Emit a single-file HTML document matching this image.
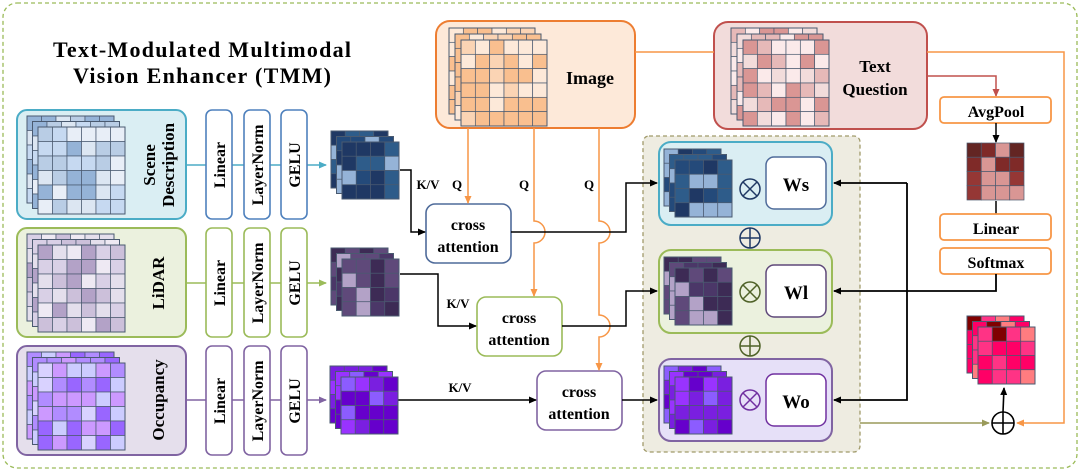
<!DOCTYPE html>
<html><head><meta charset="utf-8"><style>
html,body{margin:0;padding:0;background:#fff;}
svg{display:block;}
text{font-family:"Liberation Serif",serif;font-weight:bold;fill:#000;}
</style></head><body>
<svg id="s" width="1080" height="472" viewBox="0 0 1080 472" xmlns="http://www.w3.org/2000/svg">
<defs>
<marker id="ab" markerWidth="8" markerHeight="8" refX="7" refY="4" orient="auto" markerUnits="userSpaceOnUse"><path d="M0,0.5 L8,4 L0,7.5 Z" fill="#000"/></marker>
<marker id="ao" markerWidth="8" markerHeight="8" refX="7" refY="4" orient="auto" markerUnits="userSpaceOnUse"><path d="M0,0.5 L8,4 L0,7.5 Z" fill="#f79646"/></marker>
<marker id="ar" markerWidth="8" markerHeight="8" refX="7" refY="4" orient="auto" markerUnits="userSpaceOnUse"><path d="M0,0.5 L8,4 L0,7.5 Z" fill="#c0504d"/></marker>
<marker id="ac" markerWidth="8" markerHeight="8" refX="7" refY="4" orient="auto" markerUnits="userSpaceOnUse"><path d="M0,0.5 L8,4 L0,7.5 Z" fill="#4bacc6"/></marker>
<marker id="ag" markerWidth="8" markerHeight="8" refX="7" refY="4" orient="auto" markerUnits="userSpaceOnUse"><path d="M0,0.5 L8,4 L0,7.5 Z" fill="#9bbb59"/></marker>
<marker id="ap" markerWidth="8" markerHeight="8" refX="7" refY="4" orient="auto" markerUnits="userSpaceOnUse"><path d="M0,0.5 L8,4 L0,7.5 Z" fill="#8064a2"/></marker>
<marker id="ay" markerWidth="8" markerHeight="8" refX="7" refY="4" orient="auto" markerUnits="userSpaceOnUse"><path d="M0,0.5 L8,4 L0,7.5 Z" fill="#9a9a5a"/></marker>
</defs>
<rect x="3" y="3" width="1074" height="465" rx="14" fill="none" stroke="#9bbb59" stroke-width="1.3" stroke-dasharray="4,3"/>
<text x="202" y="57" font-size="22" text-anchor="middle" textLength="298">Text-Modulated Multimodal</text>
<text x="202" y="83" font-size="22" text-anchor="middle" textLength="258">Vision Enhancer (TMM)</text>

<!-- panel (drawn first) -->
<rect x="643" y="136" width="217" height="316" rx="6" fill="#eeece1" stroke="#a09a6a" stroke-width="1.3" stroke-dasharray="4,3"/>
<rect x="659" y="142" width="173" height="83" rx="12" fill="#daeef3" stroke="#4bacc6" stroke-width="2"/>
<rect x="659" y="250" width="173" height="83" rx="12" fill="#ebf1de" stroke="#9bbb59" stroke-width="2"/>
<rect x="659" y="359" width="173" height="82" rx="12" fill="#e6e0f8" stroke="#8064a2" stroke-width="2"/>
<rect x="766" y="157" width="60" height="52" rx="8" fill="#fff" stroke="#4f6b9a" stroke-width="1.5"/>
<rect x="766" y="265" width="60" height="52" rx="8" fill="#fff" stroke="#5f497a" stroke-width="1.5"/>
<rect x="766" y="374" width="60" height="52" rx="8" fill="#fff" stroke="#7030a0" stroke-width="1.5"/>
<text x="796" y="191" font-size="19" text-anchor="middle">Ws</text>
<text x="796" y="299" font-size="19" text-anchor="middle">Wl</text>
<text x="796" y="408" font-size="19" text-anchor="middle">Wo</text>
<g id="ops"></g>

<!-- input boxes -->
<rect x="17" y="110" width="169" height="109" rx="10" fill="#daeef3" stroke="#4bacc6" stroke-width="2"/>
<rect x="17" y="228" width="169" height="109" rx="10" fill="#ebf1de" stroke="#9bbb59" stroke-width="2"/>
<rect x="17" y="346" width="169" height="109" rx="10" fill="#e5dfec" stroke="#8064a2" stroke-width="2"/>
<text transform="translate(155,165) rotate(-90)" font-size="17" text-anchor="middle">Scene</text>
<text transform="translate(174,165) rotate(-90)" font-size="17" text-anchor="middle">Description</text>
<text transform="translate(164,283) rotate(-90)" font-size="17" text-anchor="middle">LiDAR</text>
<text transform="translate(164,400) rotate(-90)" font-size="17" text-anchor="middle">Occupancy</text>

<line x1="186" y1="165" x2="326" y2="165" stroke="#4bacc6" stroke-width="1.5" marker-end="url(#ac)"/>
<line x1="186" y1="283" x2="326" y2="283" stroke="#9bbb59" stroke-width="1.5" marker-end="url(#ag)"/>
<line x1="186" y1="400" x2="326" y2="400" stroke="#8064a2" stroke-width="1.5" marker-end="url(#ap)"/>

<g id="lnbox"></g>

<!-- image & text -->
<rect x="436" y="21" width="199" height="107" rx="14" fill="#fde9d9" stroke="#ed7d31" stroke-width="2"/>
<text x="590" y="84" font-size="18" text-anchor="middle">Image</text>
<rect x="714" y="22" width="213" height="107" rx="14" fill="#f2dcdb" stroke="#c0504d" stroke-width="2"/>
<text x="875" y="72" font-size="17" text-anchor="middle">Text</text>
<text x="875" y="95" font-size="17" text-anchor="middle">Question</text>
<line x1="635" y1="52" x2="714" y2="52" stroke="#f79646" stroke-width="1.5"/>
<polyline points="927,52 1064,52 1064,423 1017,423" fill="none" stroke="#f79646" stroke-width="1.5" marker-end="url(#ao)"/>
<polyline points="927,76 996,76 996,96" fill="none" stroke="#c0504d" stroke-width="1.5" marker-end="url(#ar)"/>

<!-- right column -->
<rect x="940" y="97" width="111" height="26" rx="4" fill="#fff" stroke="#f79646" stroke-width="1.8"/>
<text x="996" y="117" font-size="16" text-anchor="middle">AvgPool</text>
<line x1="996" y1="123" x2="996" y2="142" stroke="#000" stroke-width="1.5" marker-end="url(#ab)"/>
<line x1="996" y1="201" x2="996" y2="214" stroke="#000" stroke-width="1.5"/>
<rect x="940" y="214" width="111" height="26" rx="4" fill="#fff" stroke="#f79646" stroke-width="1.8"/>
<text x="996" y="234" font-size="16" text-anchor="middle">Linear</text>
<rect x="940" y="248" width="111" height="26" rx="4" fill="#fff" stroke="#f79646" stroke-width="1.8"/>
<text x="996" y="268" font-size="16" text-anchor="middle">Softmax</text>
<polyline points="996,274 996,291 834,291" fill="none" stroke="#000" stroke-width="1.8" marker-end="url(#ab)"/>
<polyline points="907,183 834,183" fill="none" stroke="#000" stroke-width="1.8" marker-end="url(#ab)"/>
<polyline points="907,183 907,400 834,400" fill="none" stroke="#000" stroke-width="1.8" marker-end="url(#ab)"/>

<line x1="860" y1="423" x2="989" y2="423" stroke="#9a9a5a" stroke-width="1.5" marker-end="url(#ay)"/>
<circle cx="1003" cy="423" r="11" fill="#fff" stroke="#000" stroke-width="1.6"/>
<line x1="992" y1="423" x2="1014" y2="423" stroke="#000" stroke-width="1.6"/>
<line x1="1003" y1="412" x2="1003" y2="434" stroke="#000" stroke-width="1.6"/>
<line x1="1003" y1="412" x2="1004" y2="388" stroke="#000" stroke-width="1.6" marker-end="url(#ab)"/>

<!-- cross attention -->
<rect x="426" y="204" width="85" height="59" rx="9" fill="#fff" stroke="#4f6b9a" stroke-width="1.6"/>
<text x="468" y="230" font-size="16" text-anchor="middle">cross</text>
<text x="468" y="252" font-size="16" text-anchor="middle">attention</text>
<rect x="477" y="297" width="85" height="59" rx="9" fill="#fff" stroke="#9bbb59" stroke-width="1.6"/>
<text x="519" y="323" font-size="16" text-anchor="middle">cross</text>
<text x="519" y="345" font-size="16" text-anchor="middle">attention</text>
<rect x="537" y="371" width="85" height="59" rx="9" fill="#fff" stroke="#8064a2" stroke-width="1.6"/>
<text x="579" y="397" font-size="16" text-anchor="middle">cross</text>
<text x="579" y="419" font-size="16" text-anchor="middle">attention</text>

<line x1="468" y1="128" x2="468" y2="203" stroke="#f79646" stroke-width="1.5" marker-end="url(#ao)"/>
<path d="M534,128 L534,221 A11,11 0 0 1 534,243 L534,296" fill="none" stroke="#f79646" stroke-width="1.5" marker-end="url(#ao)"/>
<path d="M599,128 L599,221 A11,11 0 0 1 599,243 L599,315 A11,11 0 0 1 599,337 L599,370" fill="none" stroke="#f79646" stroke-width="1.5" marker-end="url(#ao)"/>

<polyline points="400,170 411,170 411,232 425,232" fill="none" stroke="#000" stroke-width="1.5" marker-end="url(#ab)"/>
<polyline points="400,274 438,274 438,326 476,326" fill="none" stroke="#000" stroke-width="1.5" marker-end="url(#ab)"/>
<polyline points="398,400 536,400" fill="none" stroke="#000" stroke-width="1.5" marker-end="url(#ab)"/>
<polyline points="511,232 626,232 626,183 657,183" fill="none" stroke="#000" stroke-width="1.5" marker-end="url(#ab)"/>
<polyline points="562,326 626,326 626,291 657,291" fill="none" stroke="#000" stroke-width="1.5" marker-end="url(#ab)"/>
<polyline points="622,400 657,400" fill="none" stroke="#000" stroke-width="1.5" marker-end="url(#ab)"/>
<text x="428" y="189" font-size="13" text-anchor="middle">K/V</text>
<text x="457" y="189" font-size="13" text-anchor="middle">Q</text>
<text x="524" y="189" font-size="13" text-anchor="middle">Q</text>
<text x="589" y="189" font-size="13" text-anchor="middle">Q</text>
<text x="458" y="308" font-size="13" text-anchor="middle">K/V</text>
<text x="460" y="392" font-size="13" text-anchor="middle">K/V</text>

<g id="grids"></g>
</svg>
<script>
var NS="http://www.w3.org/2000/svg";
function el(p,t,a,txt){var e=document.createElementNS(NS,t);for(var k in a)e.setAttribute(k,a[k]);if(txt)e.textContent=txt;p.appendChild(e);return e;}
var seed=7;function rnd(){seed=(seed*9301+49297)%233280;return seed/233280;}
function stack(x,y,w,n,d,pal,sc){var g=document.getElementById("grids");var c=w/n;
 for(var l=0;l<3;l++){var ox=x+l*d,oy=y+l*d;
  for(var i=0;i<n;i++)for(var j=0;j<n;j++){el(g,"rect",{x:ox+j*c,y:oy+i*c,width:c,height:c,fill:pal[Math.floor(rnd()*pal.length)],stroke:sc,"stroke-width":0.7});}
  el(g,"rect",{x:ox,y:oy,width:w,height:w,fill:"none",stroke:sc,"stroke-width":1});}}
var sc="#4a5a70";
stack(27,116,87,6,5.5,["#dce6f2","#b9cde5","#95b3d7","#c6d9f1","#e8eef7"],sc);
stack(27,234,87,6,5.5,["#e4dfec","#ccc0da","#b3a2c7","#d9d0e6","#eee9f3"],sc);
stack(27,352,87,6,5.5,["#ccccff","#cc99ff","#9966ff","#d9d2ff","#b18cff"],sc);
stack(331,131,57,4,5.5,["#1f3864","#2e5c8a","#95b3d7","#244a7a"],sc);
stack(331,248,57,4,5.5,["#3d2b55","#5f497a","#b3a2c7","#4b3768"],sc);
stack(330,366,57,4,5.5,["#6600cc","#9933ff","#8c5cff","#7a1fe0"],sc);
stack(449,28,86,6,6,["#fde9d9","#fbd4b4","#f9bf8f","#fac090"],sc);
stack(731,28,86,6,6,["#f2dcdb","#e6b9b8","#da9694","#fbeaea"],sc);
stack(664,149,57,4,5.5,["#1f3864","#2e5c8a","#95b3d7","#244a7a"],sc);
stack(664,257,57,4,5.5,["#3d2b55","#5f497a","#b3a2c7","#4b3768"],sc);
stack(664,366,57,4,5.5,["#6600cc","#9933ff","#8c5cff","#7a1fe0"],sc);
stack(967,316,57,4,5.5,["#ff0066","#800000","#ff7c80","#ff3385"],sc);
(function(){var g=document.getElementById("grids");var p=["#953735","#632523","#d99694","#7f2a28"];var c=14.25;
 for(var i=0;i<4;i++)for(var j=0;j<4;j++)el(g,"rect",{x:967+j*c,y:143+i*c,width:c,height:c,fill:p[Math.floor(rnd()*4)],stroke:sc,"stroke-width":0.7});})();
var lb=document.getElementById("lnbox");
[[110,"#4f81bd"],[228,"#9bbb59"],[346,"#8064a2"]].forEach(function(r){
 [[206,"Linear"],[244,"LayerNorm"],[281,"GELU"]].forEach(function(b){
  el(lb,"rect",{x:b[0],y:r[0],width:26,height:109,rx:6,fill:"#fff",stroke:r[1],"stroke-width":1.6});
  el(lb,"text",{transform:"translate("+(b[0]+19)+","+(r[0]+55)+") rotate(-90)","font-size":16,"text-anchor":"middle"},b[1]);});});
var op=document.getElementById("ops");
function circ(cx,cy,col,times){el(op,"circle",{cx:cx,cy:cy,r:10,fill:"none",stroke:col,"stroke-width":1.5});
 if(times){el(op,"line",{x1:cx-7,y1:cy-7,x2:cx+7,y2:cy+7,stroke:col,"stroke-width":1.5});el(op,"line",{x1:cx+7,y1:cy-7,x2:cx-7,y2:cy+7,stroke:col,"stroke-width":1.5});}
 else{el(op,"line",{x1:cx-10,y1:cy,x2:cx+10,y2:cy,stroke:col,"stroke-width":1.5});el(op,"line",{x1:cx,y1:cy-10,x2:cx,y2:cy+10,stroke:col,"stroke-width":1.5});}}
circ(750,189,"#1f3864",1);circ(750,292,"#4f6228",1);circ(750,400,"#7030a0",1);
circ(750,238,"#1f3864",0);circ(750,346,"#4f6228",0);
</script>
</body></html>
